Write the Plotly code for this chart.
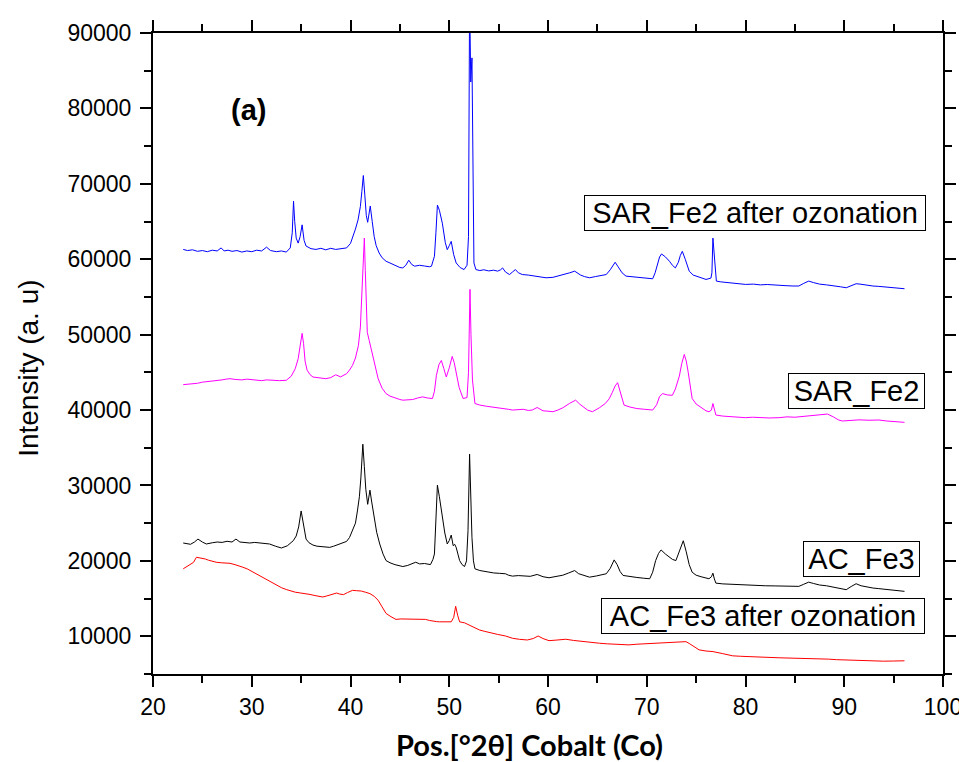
import plotly.graph_objects as go

# ---- data (2theta in degrees, intensity in a.u.) ----
sar_fe2_ozon = [
    (23.06, 61300), (23.5, 61150), (24.0, 61250), (24.5, 61050), (25.0, 61150), (25.5, 61000),
    (26.0, 61200), (26.5, 61100), (26.9, 61500), (27.2, 61100), (27.6, 61200), (28.0, 61050),
    (28.5, 61150), (29.0, 60950), (29.5, 61100), (30.0, 61000), (30.5, 61200), (31.0, 61100),
    (31.5, 61600), (31.9, 61150), (32.5, 61000), (33.0, 61100), (33.5, 60950), (33.9, 61500),
    (34.1, 63500), (34.23, 67700), (34.35, 65000), (34.5, 62800), (34.7, 62140), (34.9, 63000),
    (35.1, 64560), (35.3, 62500), (35.5, 61750), (36.0, 61400), (36.5, 61300), (37.0, 61450),
    (37.5, 61250), (38.0, 61450), (38.5, 61300), (39.0, 61400), (39.6, 61500), (40.0, 62100),
    (40.25, 63000), (40.5, 64000), (40.76, 65200), (41.0, 67000), (41.15, 69000), (41.3, 71100),
    (41.45, 68500), (41.6, 65800), (41.74, 64900), (41.85, 66000), (42.0, 67050), (42.2, 65000),
    (42.4, 63000), (42.6, 61800), (42.9, 60830), (43.2, 60200), (43.6, 59730), (44.0, 59500),
    (44.5, 59200), (45.0, 58900), (45.3, 58850), (45.6, 59200), (45.9, 59870), (46.2, 59300),
    (46.5, 59080), (47.0, 59200), (47.5, 59100), (48.0, 59000), (48.2, 59080), (48.5, 60400),
    (48.65, 63500), (48.8, 67180), (49.0, 66500), (49.3, 64780), (49.6, 62200), (49.8, 61270),
    (50.0, 61800), (50.2, 62370), (50.45, 60600), (50.7, 59510), (51.1, 58900), (51.5, 58630),
    (51.8, 59200), (51.95, 63000), (52.06, 95000), (52.18, 83500), (52.3, 86700), (52.4, 68000),
    (52.5, 59500), (52.7, 58630), (53.1, 58500), (53.5, 58600), (54.0, 58450), (54.5, 58550),
    (54.9, 58420), (55.2, 58600), (55.4, 58850), (55.7, 58300), (56.1, 57970), (56.4, 58300),
    (56.7, 58630), (57.0, 58200), (57.4, 57970), (58.0, 57900), (58.5, 57800), (59.2, 57650),
    (59.8, 57540), (60.5, 57600), (61.0, 57750), (61.5, 57900), (62.2, 58200), (62.7, 58420),
    (63.3, 57900), (63.7, 57700), (64.2, 57540), (64.8, 57700), (65.4, 57800), (65.9, 57970),
    (66.3, 58600), (66.6, 59300), (66.8, 59600), (67.1, 59000), (67.5, 58200), (67.9, 57760),
    (68.6, 57650), (69.5, 57600), (70.1, 57500), (70.6, 57410), (70.85, 58200), (71.1, 59510),
    (71.3, 60300), (71.5, 60700), (71.9, 60300), (72.3, 59730), (72.6, 59200), (72.9, 58850),
    (73.2, 59600), (73.4, 60500), (73.6, 61050), (73.9, 60000), (74.3, 58420), (74.7, 57900),
    (75.2, 57700), (75.6, 57500), (76.0, 57320), (76.5, 57500), (76.6, 58200), (76.7, 62800),
    (76.8, 61000), (76.9, 60170), (77.05, 57100), (77.5, 57000), (78.0, 56950), (78.5, 56900),
    (79.2, 56800), (80.0, 56660), (80.8, 56700), (81.5, 56600), (82.2, 56650), (83.0, 56550),
    (84.0, 56500), (84.8, 56450), (85.4, 56450), (85.9, 56800), (86.4, 57100), (86.9, 56900),
    (87.5, 56700), (88.2, 56600), (89.0, 56500), (89.6, 56350), (90.2, 56220), (90.7, 56500),
    (91.2, 56750), (91.6, 56700), (92.0, 56600), (92.5, 56500), (92.9, 56450), (93.5, 56400),
    (94.0, 56350), (94.5, 56300), (95.2, 56200), (95.7, 56150), (96.1, 56090),
]

sar_fe2 = [
    (23.06, 43370), (23.5, 43400), (24.0, 43500), (24.5, 43550), (25.0, 43700), (25.5, 43750),
    (26.0, 43850), (26.5, 43900), (27.0, 44000), (27.4, 44100), (27.8, 44160), (28.4, 44050),
    (29.0, 44000), (29.5, 44100), (30.0, 44050), (30.5, 43950), (31.0, 43900), (31.5, 44000),
    (32.1, 43950), (32.8, 43900), (33.5, 43950), (34.0, 44500), (34.4, 45470), (34.7, 46800),
    (34.9, 48500), (35.1, 50170), (35.25, 48800), (35.4, 46500), (35.6, 45300), (35.9, 44700),
    (36.2, 44380), (36.8, 44250), (37.5, 44160), (38.0, 44300), (38.5, 44680), (39.0, 44400),
    (39.6, 44820), (39.9, 45300), (40.2, 45920), (40.5, 46900), (40.8, 48550), (41.0, 51000),
    (41.15, 55000), (41.3, 60500), (41.4, 62800), (41.5, 58500), (41.6, 53500), (41.7, 50300),
    (41.9, 49200), (42.1, 48110), (42.4, 46300), (42.8, 44160), (43.2, 42900), (43.6, 42180),
    (44.0, 41850), (44.5, 41600), (45.0, 41400), (45.3, 41310), (45.8, 41350), (46.3, 41400),
    (46.8, 41600), (47.3, 41750), (47.8, 41600), (48.3, 41530), (48.5, 42500), (48.7, 44610),
    (48.95, 46000), (49.2, 46580), (49.45, 45500), (49.7, 44380), (50.0, 45600), (50.3, 47110),
    (50.5, 46300), (50.7, 45040), (51.0, 43000), (51.4, 41530), (51.8, 41660), (51.95, 45000),
    (52.1, 56000), (52.2, 50000), (52.35, 44000), (52.6, 40870), (53.1, 40660), (53.8, 40500),
    (54.5, 40400), (55.1, 40300), (55.7, 40210), (56.0, 40100), (56.4, 40000), (57.0, 40050),
    (57.5, 40100), (58.0, 39950), (58.4, 40000), (58.9, 40340), (59.5, 39900), (60.0, 39850),
    (60.5, 39780), (61.0, 40000), (61.5, 40300), (62.2, 40900), (62.8, 41310), (63.2, 40800),
    (63.6, 40400), (64.0, 40000), (64.5, 39780), (65.2, 40300), (65.8, 40870), (66.2, 41500),
    (66.5, 42300), (66.8, 43200), (67.05, 43630), (67.3, 42500), (67.7, 40660), (68.3, 40400),
    (69.0, 40200), (69.8, 40100), (70.6, 40000), (71.0, 40700), (71.3, 41800), (71.6, 42180),
    (72.1, 42000), (72.6, 41960), (72.9, 42800), (73.3, 44500), (73.55, 46200), (73.8, 47370),
    (74.0, 46500), (74.2, 45000), (74.4, 43000), (74.6, 41530), (75.0, 40800), (75.5, 40300),
    (76.0, 39900), (76.3, 39780), (76.55, 40000), (76.7, 40870), (76.85, 40000), (77.0, 39340),
    (77.7, 39200), (78.5, 39100), (79.2, 39050), (80.0, 38990), (80.7, 39050), (81.5, 39000),
    (82.4, 38950), (83.4, 38990), (84.2, 39100), (85.0, 39050), (85.8, 39150), (86.4, 39250),
    (87.4, 39300), (88.3, 39470), (88.9, 39100), (89.4, 38700), (89.8, 38550), (90.6, 38650),
    (91.5, 38700), (92.5, 38650), (93.5, 38680), (94.3, 38550), (95.0, 38500), (95.6, 38450),
    (96.1, 38370),
]

ac_fe3 = [
    (23.06, 22370), (23.4, 22250), (23.8, 22200), (24.2, 22500), (24.55, 22890), (25.0, 22500),
    (25.4, 22240), (26.0, 22400), (26.5, 22500), (27.0, 22450), (27.5, 22600), (28.0, 22500),
    (28.4, 22890), (28.8, 22500), (29.3, 22450), (29.8, 22370), (30.3, 22450), (30.8, 22400),
    (31.3, 22300), (31.8, 22240), (32.4, 21950), (33.0, 21710), (33.6, 22000), (34.2, 22670),
    (34.5, 23300), (34.75, 24500), (35.0, 26620), (35.15, 25500), (35.3, 23900), (35.5, 22890),
    (35.8, 22400), (36.2, 22100), (36.6, 21950), (37.0, 21900), (37.5, 21850), (37.9, 21790),
    (38.3, 21950), (38.6, 22100), (39.1, 22300), (39.6, 22580), (39.9, 23100), (40.2, 23990),
    (40.5, 25000), (40.7, 26620), (40.9, 28500), (41.05, 31000), (41.25, 35470), (41.4, 32500),
    (41.55, 29500), (41.74, 27500), (41.85, 28400), (41.97, 29380), (42.15, 27800), (42.4, 25740),
    (42.65, 23800), (42.96, 22240), (43.3, 20900), (43.6, 20040), (44.0, 19750), (44.5, 19500),
    (45.0, 19300), (45.3, 19250), (45.8, 19400), (46.2, 19600), (46.6, 19820), (47.0, 19600),
    (47.5, 19650), (48.1, 19510), (48.35, 20200), (48.5, 20920), (48.65, 25000), (48.8, 30040),
    (49.0, 28500), (49.3, 25740), (49.55, 23700), (49.8, 22240), (50.0, 22700), (50.2, 23420),
    (50.3, 22500), (50.4, 22010), (50.55, 22200), (50.7, 21790), (50.9, 20800), (51.05, 20040),
    (51.3, 19500), (51.55, 19250), (51.75, 20000), (51.9, 24000), (52.06, 34160), (52.18, 27000),
    (52.3, 23100), (52.45, 20000), (52.6, 18950), (53.1, 18720), (53.8, 18550), (54.5, 18400),
    (55.1, 18350), (55.7, 18290), (56.0, 18100), (56.4, 17980), (57.0, 18050), (57.5, 18000),
    (58.2, 17950), (58.9, 18200), (59.5, 17900), (60.1, 17760), (60.8, 17900), (61.5, 18100),
    (62.1, 18400), (62.7, 18720), (63.1, 18300), (63.5, 18100), (64.2, 17840), (64.9, 18000),
    (65.5, 18150), (65.9, 18290), (66.3, 19000), (66.7, 20130), (67.0, 19500), (67.3, 18600),
    (67.6, 18070), (68.3, 17900), (69.0, 17800), (69.7, 17700), (70.3, 17630), (70.6, 18500),
    (70.9, 20040), (71.2, 21000), (71.45, 21450), (71.9, 20900), (72.3, 20480), (72.6, 20200),
    (72.95, 20040), (73.3, 21300), (73.5, 22200), (73.7, 22670), (74.0, 21200), (74.3, 19500),
    (74.6, 18500), (75.0, 18100), (75.5, 17900), (76.0, 17700), (76.3, 17630), (76.55, 17900),
    (76.7, 18370), (76.85, 17600), (77.0, 17050), (77.7, 16950), (78.5, 16900), (79.2, 16800),
    (80.0, 16750), (81.0, 16750), (82.0, 16700), (83.0, 16680), (84.0, 16650), (84.8, 16600),
    (85.4, 16620), (85.9, 16900), (86.4, 17180), (86.9, 17000), (87.5, 16800), (88.2, 16700),
    (89.0, 16500), (89.6, 16350), (90.2, 16180), (90.7, 16600), (91.2, 16970), (91.7, 16700),
    (92.3, 16500), (92.9, 16400), (93.5, 16320), (94.2, 16200), (95.0, 16100), (95.6, 16050),
    (96.1, 15960),
]

ac_fe3_ozon = [
    (23.06, 18950), (23.4, 19200), (23.7, 19510), (24.1, 19800), (24.4, 20480), (24.9, 20400),
    (25.3, 20250), (25.6, 20100), (26.0, 19950), (26.4, 19820), (26.9, 19750), (27.3, 19700),
    (27.8, 19680), (28.3, 19500), (28.7, 19350), (29.1, 19160), (29.6, 18900), (30.0, 18600),
    (30.5, 18290), (31.0, 17900), (31.4, 17600), (31.8, 17300), (32.2, 16970), (32.6, 16700),
    (33.0, 16450), (33.5, 16200), (33.9, 16000), (34.4, 15850), (34.9, 15750), (35.5, 15660),
    (35.9, 15550), (36.4, 15400), (36.8, 15300), (37.2, 15210), (37.6, 15350), (38.0, 15500),
    (38.3, 15650), (38.6, 15740), (38.9, 15600), (39.3, 15530), (39.7, 15800), (40.2, 16090),
    (40.6, 16050), (41.1, 16000), (41.5, 15850), (41.97, 15660), (42.4, 15300), (42.8, 14780),
    (43.2, 13900), (43.6, 13030), (44.1, 12600), (44.6, 12240), (45.1, 12300), (45.6, 12300),
    (46.1, 12200), (46.6, 12240), (47.1, 12300), (47.6, 12240), (48.0, 12100), (48.3, 12000),
    (48.7, 11950), (49.0, 11920), (49.6, 11950), (50.2, 11920), (50.45, 12500), (50.65, 13980),
    (50.85, 12800), (51.05, 11920), (51.3, 11850), (51.55, 11790), (52.0, 11500), (52.4, 11270),
    (52.7, 11050), (53.07, 10830), (53.6, 10650), (54.1, 10470), (54.9, 10250), (55.7, 10040),
    (56.0, 9900), (56.4, 9740), (57.1, 9600), (57.9, 9510), (58.5, 9700), (59.0, 10040),
    (59.5, 9700), (60.1, 9420), (60.9, 9500), (61.8, 9610), (62.6, 9450), (63.5, 9300),
    (64.3, 9200), (65.2, 9080), (66.0, 9000), (66.7, 8950), (67.5, 8900), (68.2, 8860),
    (69.0, 8950), (69.8, 9000), (70.6, 9100), (71.3, 9160), (72.0, 9150), (72.6, 9200),
    (73.3, 9250), (73.97, 9290), (74.3, 9050), (74.6, 8800), (75.0, 8450), (75.3, 8200),
    (76.0, 8050), (76.7, 7970), (77.7, 7700), (78.7, 7410), (79.5, 7350), (80.2, 7300),
    (81.0, 7280), (81.7, 7240), (82.5, 7200), (83.4, 7150), (84.2, 7120), (85.1, 7100),
    (85.9, 7080), (86.7, 7050), (87.5, 7000), (88.4, 6970), (89.2, 6900), (90.1, 6850),
    (91.0, 6800), (91.8, 6750), (92.9, 6720), (94.0, 6700), (95.0, 6720), (96.1, 6750),
]

series_names = ["SAR_Fe2 after ozonation", "SAR_Fe2", "AC_Fe3", "AC_Fe3 after ozonation"]
series_data = [sar_fe2_ozon, sar_fe2, ac_fe3, ac_fe3_ozon]
series_colors = ["#0000FF", "#FF00FF", "#000000", "#FF0000"]

# label boxes: (x centre, y centre, box width px)
label_x = [80.99, 91.25, 91.76, 81.80]
label_y = [66160, 42540, 20300, 12670]
label_w = [340, 135, 115, 322]

FONT = "Liberation Sans, Arial, sans-serif"

fig = go.Figure()
for name, pts, col in zip(series_names, series_data, series_colors):
    fig.add_trace(go.Scatter(
        x=[p[0] for p in pts], y=[p[1] for p in pts], mode="lines", name=name,
        line=dict(color=col, width=1), showlegend=False,
    ))

for name, lx, ly, lw in zip(series_names, label_x, label_y, label_w):
    fig.add_annotation(
        x=lx, y=ly, xref="x", yref="y", text=name, showarrow=False,
        font=dict(family=FONT, size=29, color="black"),
        bordercolor="black", borderwidth=1, borderpad=0, bgcolor="white",
        width=lw, height=34, xanchor="center", yanchor="middle",
    )

fig.add_annotation(x=29.71, y=79780, xref="x", yref="y", text="<b>(a)</b>",
                   showarrow=False, xanchor="center", yanchor="middle",
                   font=dict(family=FONT, size=29, color="black"))

fig.add_annotation(x=-0.1576, y=0.4768, xref="paper", yref="paper", text="Intensity (a. u)",
                   textangle=-90, showarrow=False, xanchor="center", yanchor="middle",
                   font=dict(family=FONT, size=28, color="black"))

fig.add_annotation(x=0.4772, y=-0.1099, xref="paper", yref="paper",
                   text="<b>Pos.[°2θ] Cobalt (Co)</b>", showarrow=False,
                   xanchor="center", yanchor="middle",
                   font=dict(family="Lato, Open Sans, sans-serif", size=29, color="black"))

axis_common = dict(
    showline=True, linecolor="black", linewidth=2, mirror="ticks",
    ticks="outside", ticklen=11, tickwidth=2, tickcolor="black",
    showgrid=False, zeroline=False,
    tickfont=dict(family=FONT, size=23, color="black"),
)

fig.update_xaxes(range=[20, 100], tick0=0, dtick=10, tickformat="d",
                 minor=dict(dtick=5, ticks="outside", ticklen=7, tickwidth=2, tickcolor="black", showgrid=False),
                 **axis_common)
fig.update_yaxes(range=[5000, 90000], tick0=0, dtick=10000, tickformat="d",
                 minor=dict(dtick=5000, ticks="outside", ticklen=7, tickwidth=2, tickcolor="black", showgrid=False),
                 ticklabelstandoff=4,
                 **axis_common)

# the page adds an 8 px body margin, so the margins are shifted to compensate
fig.update_layout(
    width=967, height=762,
    margin=dict(l=145, r=32, t=20, b=96),
    paper_bgcolor="white", plot_bgcolor="white",
    showlegend=False,
)

fig.write_html("out.html")
